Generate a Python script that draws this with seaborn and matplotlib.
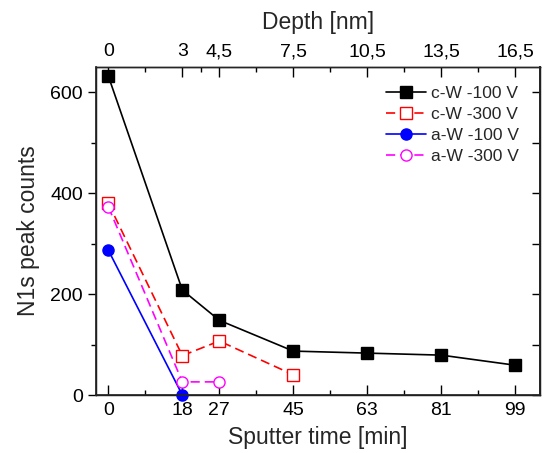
import pandas as pd
import matplotlib
matplotlib.use('Agg')
import matplotlib.pyplot as plt
import seaborn as sns

# sputter time [min] and N1s peak counts
time_cw100 = [0, 18, 27, 45, 63, 81, 99]
counts_cw100 = [632, 208, 148, 87, 83, 79, 59]
time_cw300 = [0, 18, 27, 45]
counts_cw300 = [380, 78, 107, 40]
time_aw100 = [0, 18]
counts_aw100 = [287, 0]
time_aw300 = [0, 18, 27]
counts_aw300 = [373, 26, 26]

time_ticks = [0, 18, 27, 45, 63, 81, 99]
time_minor = [9, 36, 54, 72, 90]
depth_labels = ['0', '3', '4,5', '7,5', '10,5', '13,5', '16,5']
depth_minor = [9, 22.5, 36, 54, 72, 90]
y_ticks = [0, 200, 400, 600]

series = [
    ('c-W -100 V', time_cw100, counts_cw100, 'black', 's', '-', True),
    ('c-W -300 V', time_cw300, counts_cw300, 'red', 's', '--', False),
    ('a-W -100 V', time_aw100, counts_aw100, 'blue', 'o', '-', True),
    ('a-W -300 V', time_aw300, counts_aw300, 'magenta', 'o', '--', False),
]

sns.set_theme(style='ticks')
plt.rcParams['font.family'] = ['Liberation Sans', 'DejaVu Sans']

fig = plt.figure(figsize=(5.44, 4.53), dpi=100)
ax = fig.add_axes([96/544, 1 - 395/453, (540 - 96)/544, (395 - 67)/453])

for label, t, c, color, mk, ls, filled in series:
    df = pd.DataFrame({'time': t, 'counts': c})
    sns.lineplot(data=df, x='time', y='counts', ax=ax, color=color, marker=mk,
                 linestyle=ls, linewidth=1.2, markersize=8,
                 markerfacecolor=color if filled else 'white',
                 markeredgecolor=color, markeredgewidth=1.0,
                 label=label, clip_on=False, zorder=3)
    if ls != '-':
        ax.lines[-1].set_dashes((5.5, 3))

ax.set_xlim(-3, 105)
ax.set_ylim(0, 650)
ax.set_xticks(time_ticks)
ax.set_xticks(time_minor, minor=True)
ax.set_yticks(y_ticks)
ax.set_yticks([100, 300, 500], minor=True)
ax.tick_params(axis='x', which='both', direction='in', labelsize=14, colors='black', pad=5)
ax.tick_params(axis='x', which='major', length=7, width=1)
ax.tick_params(axis='x', which='minor', length=3.5, width=1)
ax.tick_params(axis='y', which='both', direction='out', labelsize=14, colors='black')
ax.tick_params(axis='y', which='major', length=6, width=1)
ax.tick_params(axis='y', which='minor', length=3.5, width=1)
ax.set_xlabel('Sputter time [min]', fontsize=16.5, labelpad=5)
ax.set_ylabel('N1s peak counts', fontsize=16.5, labelpad=7)
for sp in ax.spines.values():
    sp.set_visible(True)
    sp.set_color('black')
    sp.set_linewidth(1.0)

# right-hand ticks pointing inward
axr = ax.secondary_yaxis('right')
axr.set_yticks([0, 100, 200, 300, 400, 500, 600])
axr.set_yticklabels([])
axr.tick_params(direction='in', length=6, width=1, colors='black')

# top depth axis
ax2 = ax.twiny()
ax2.set_xlim(ax.get_xlim())
ax2.set_xticks(time_ticks)
ax2.set_xticklabels(depth_labels)
ax2.set_xticks(depth_minor, minor=True)
ax2.tick_params(axis='x', which='both', direction='in', labelsize=14, colors='black', pad=5)
ax2.tick_params(axis='x', which='major', length=7, width=1)
ax2.tick_params(axis='x', which='minor', length=3.5, width=1)
ax2.set_xlabel('Depth [nm]', fontsize=16.5, labelpad=10)
ax2.spines['top'].set_linewidth(1.0)

ax.legend(loc='upper right', bbox_to_anchor=(519/544, (453 - 86)/453),
          bbox_transform=fig.transFigure, frameon=False, fontsize=12.5,
          handlelength=2.3, handletextpad=0.3, labelspacing=0.33,
          borderpad=0, borderaxespad=0)

fig.savefig('out.png', dpi=100)
